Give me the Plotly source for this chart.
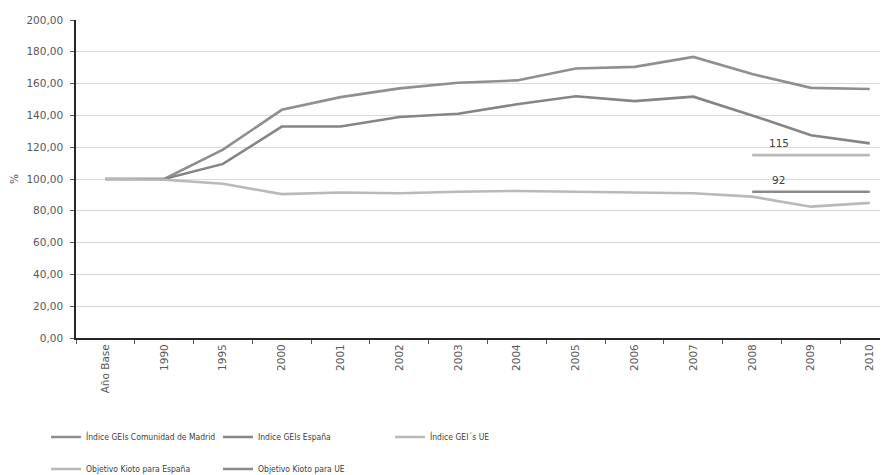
import plotly.graph_objects as go

categories = ["Año Base", "1990", "1995", "2000", "2001", "2002", "2003", "2004",
              "2005", "2006", "2007", "2008", "2009", "2010"]
madrid = [100, 100, 118.5, 143.5, 151.5, 157, 160.5, 162, 169.5, 170.5, 176.8, 166, 157.3, 156.6]
espana = [100, 100, 109.5, 133, 133, 139, 141, 147, 152, 149, 151.8, 140, 127.5, 122.4]
ue = [100, 99.5, 97, 90.5, 91.5, 91, 92, 92.5, 92, 91.5, 91, 88.9, 82.6, 85]
kioto_cats = ["2008", "2009", "2010"]
kioto_espana = [115, 115, 115]
kioto_ue = [92, 92, 92]
y_ticks = [0, 20, 40, 60, 80, 100, 120, 140, 160, 180, 200]

names = ["Índice GEIs Comunidad de Madrid", "Indice GEIs España", "Índice GEI´s UE",
         "Objetivo Kioto para España", "Objetivo Kioto para UE"]
colors = ["#8f8f8f", "#858585", "#b9b9b9", "#b9b9b9", "#8a8a8a"]

fig = go.Figure()
series = [(categories, madrid), (categories, espana), (categories, ue),
          (kioto_cats, kioto_espana), (kioto_cats, kioto_ue)]
for i, ((xs, ys), n, c) in enumerate(zip(series, names, colors)):
    fig.add_trace(go.Scatter(
        x=xs, y=ys, name=n, mode="lines",
        line=dict(color=c, width=2.6),
        legend="legend" if i < 3 else "legend2",
        hoverinfo="skip",
    ))

fig.add_annotation(x=11.45, y=115, text="115", showarrow=False, yshift=12,
                   font=dict(size=10.5, color="#404040", family="DejaVu Sans"))
fig.add_annotation(x=11.45, y=92, text="92", showarrow=False, yshift=12,
                   font=dict(size=10.5, color="#404040", family="DejaVu Sans"))

legend_font = dict(family="DejaVu Sans Condensed, DejaVu Sans, sans-serif",
                   size=8.5, color="#404040")

fig.update_layout(
    width=880, height=467,
    margin=dict(l=68, r=0, t=12, b=137),
    plot_bgcolor="white", paper_bgcolor="white",
    separators=",.",
    font=dict(family="DejaVu Sans", size=10.5, color="#595959"),
    showlegend=True,
    legend=dict(orientation="h", xref="container", yref="container",
                x=0.0432, y=0.0814, xanchor="left", yanchor="middle",
                entrywidth=127, entrywidthmode="pixels", font=legend_font,
                bgcolor="rgba(0,0,0,0)", traceorder="normal"),
    legend2=dict(orientation="h", xref="container", yref="container",
                 x=0.0432, y=0.013, xanchor="left", yanchor="middle",
                 entrywidth=127, entrywidthmode="pixels", font=legend_font,
                 bgcolor="rgba(0,0,0,0)", traceorder="normal"),
    xaxis=dict(
        type="category", categoryorder="array", categoryarray=categories,
        range=[-0.5, 13.31], tickangle=-90, automargin=False,
        showline=True, linecolor="#262626", linewidth=2,
        ticks="outside", tickson="boundaries", ticklen=4, tickcolor="#595959",
        showgrid=False, zeroline=False,
        tickfont=dict(size=10.5, color="#595959"),
    ),
    yaxis=dict(
        range=[0, 200], tickvals=y_ticks, tickformat=".2f", automargin=False,
        showline=True, linecolor="#262626", linewidth=1.5,
        ticks="outside", ticklen=4, tickcolor="#595959", ticklabelstandoff=5,
        showgrid=True, gridcolor="#d9d9d9", gridwidth=1, zeroline=False,
        title=dict(text="%", standoff=6, font=dict(size=10.5, color="#595959")),
    ),
)

fig.write_html("out.html")
